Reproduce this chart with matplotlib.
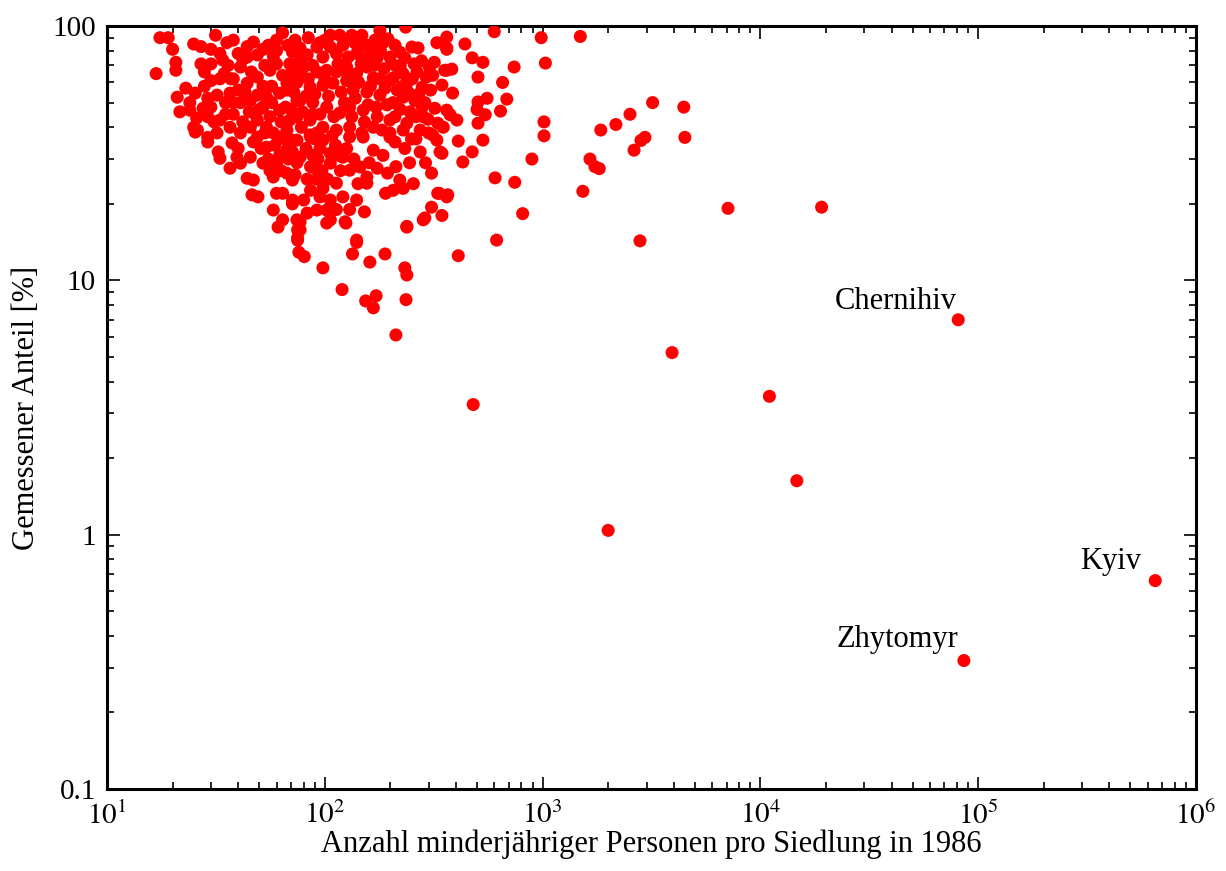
#!/usr/bin/env python3

import math

import matplotlib

matplotlib.use("Agg")
import matplotlib.pyplot as plt
from matplotlib.ticker import FixedLocator, FuncFormatter, LogLocator, NullFormatter


# Siedlungen mit wenigen Minderjährigen (dichter Haufen oben links)
cluster_top_left = [
    (17.5, 90), (19.1, 90), (20, 81), (16.8, 65), (20.7, 72), (20.7, 67), (25, 85), (27, 83),
    (31.5, 92), (35.5, 86), (30, 81), (33, 78), (27, 71), (30, 71), (34, 73.5), (30, 61),
    (34.5, 65), (38, 62), (41, 69), (44, 83), (47, 86.5), (44, 75.5), (49, 77), (60, 88),
    (64, 94), (67.6, 84), (71, 79), (56, 67), (60, 71), (49, 63), (44, 59.6), (41, 50),
    (45.5, 51), (49, 53.5), (52, 48), (54, 52.5), (62, 54.5), (67, 56), (67, 59.6), (69, 71),
    (74.5, 71), (74.5, 51), (21, 52.5), (23, 57), (25.4, 54.5), (29, 52), (32, 53.5),
    (36.7, 54.5), (38, 50), (21.6, 46), (24, 46.7), (27.6, 47.5), (30, 48), (25.8, 43.5),
    (29, 44), (33, 42.7), (25, 40), (26, 39), (32, 38), (29, 36.5), (36.7, 40), (41, 38),
    (45.5, 40), (49, 42.7), (56, 44), (62, 46.7), (69, 42.7), (58, 38), (67, 39), (54, 40),
]

cluster_top_right = [
    (84, 90), (106, 92), (117, 92), (133, 92), (148, 92), (179, 96), (235, 99), (170, 88),
    (174, 80.5), (156, 84), (137, 86), (121, 84), (106, 82.7), (92, 82.7), (77, 82), (73, 88),
    (83, 77), (98, 75.5), (113, 78), (128, 75.5), (140, 78), (156, 75.5), (174, 75),
    (199, 75.5), (221, 79), (251, 82.7), (268, 82), (327, 86), (363, 90.5), (363, 82),
    (302, 69), (355, 67), (313, 64), (265, 66), (280, 57.5), (229, 65), (206, 62.5),
    (238, 59.6), (241, 55), (215, 56), (189, 57), (167, 62.5), (156, 69), (140, 65), (126, 69),
    (113, 66), (102, 67), (92, 66), (80, 69), (74.5, 60), (85.6, 57.5), (98, 58.5),
    (109, 59.6), (126, 61), (135, 56), (156, 55), (179, 53.5), (206, 50), (229, 52.5),
    (259, 51), (288, 50), (320, 47.5), (363, 46.7), (330, 41.5), (283, 44), (238, 41.5),
    (199, 42.7), (174, 44), (150, 46.7), (130, 48), (117, 45.5), (102, 48), (88, 50), (77, 51),
    (74.5, 44), (85.6, 42.7), (98, 40), (113, 39), (130, 40), (148, 38), (167, 40), (199, 38),
    (229, 39), (274, 39), (313, 37.3), (85.6, 37.3),
]

cluster_lower = [
    (25.4, 38.3), (29, 35), (32.4, 32), (33, 30.2), (37.5, 34.7), (36.7, 27.6), (41, 28.9),
    (39.5, 30.5), (45.5, 30.5), (44, 25.2), (47, 24.8), (46.3, 21.7), (49.3, 21.3), (58, 18.9),
    (61, 16.2), (64, 17.3), (74.5, 17.3), (75, 14.7), (75, 15.8), (60, 22), (64, 22),
    (71, 20.7), (58, 25.5), (67, 26.4), (71, 24.8), (49, 36.6), (54, 33.4), (52, 28.9),
    (60, 28.9), (67, 32.6), (71, 35.6), (62, 36.6), (74.5, 29), (74.5, 35.6), (86, 36.6),
    (98, 35.6), (130, 36.6), (150, 36.6), (199, 36.6), (233, 33), (274, 32), (327, 35.6),
    (338, 32), (71, 32), (77, 30.5), (90, 27.6), (106, 31.6), (106, 28.9), (121, 30.5),
    (130, 27.1), (145, 27.9), (167, 32.5), (156, 25.5), (156, 24.1), (174, 27.6), (194, 26.4),
    (221, 24.8), (206, 22.6), (229, 23), (309, 26.4), (330, 22), (363, 21.3), (309, 19.4),
    (288, 17.6), (345, 18), (238, 16.2), (140, 14.4), (124, 17), (106, 17.3), (102, 18.9),
    (92, 18.9), (83, 18.4), (77, 15.8), (75, 14.4), (106, 20.7), (121, 21.3), (140, 20.7),
    (152, 18.6), (95, 21.3), (86, 22.6), (98, 23), (113, 24.1), (80, 20.7), (71, 20),
]

# zusätzliche Punkte im überdeckten Kern des Haufens
cluster_core = [
    (35, 45), (40, 56), (45, 46), (52, 58), (57, 50), (63, 42), (66, 48), (72, 55), (79, 46),
    (84, 62), (90, 54), (95, 45), (100, 62), (104, 53), (110, 44), (115, 71), (119, 55),
    (123, 50), (128, 64), (133, 44), (138, 52), (143, 60), (147, 71), (152, 42), (158, 49),
    (162, 58), (168, 70), (172, 48), (178, 62), (183, 39), (187, 68), (193, 49), (197, 61),
    (203, 71), (210, 44), (215, 69), (222, 47), (228, 58), (233, 75), (246, 46), (252, 62),
    (257, 71), (262, 44), (270, 54), (278, 73), (292, 63), (298, 43), (306, 56), (318, 72),
    (88, 31), (95, 33), (112, 34), (118, 27), (126, 33), (136, 30), (142, 24), (160, 29),
    (185, 31), (190, 22), (212, 28), (245, 29), (255, 24), (262, 36), (290, 29), (83, 25),
    (92, 25), (113, 19), (130, 19), (62, 31), (56, 27), (51, 33), (40, 33), (48, 45), (37, 62),
    (53, 70), (79, 76), (88, 70), (95, 86), (100, 88), (125, 88), (142, 83), (160, 81),
    (185, 86), (195, 89), (210, 84), (222, 70), (180, 80), (210, 35), (250, 36), (280, 48),
    (300, 38), (60, 80), (55, 84), (40, 78), (38, 88),
]

cluster_core_left = [
    (28, 58), (31, 42), (35, 50), (38, 45), (42, 42), (43, 55), (47, 35), (50, 47), (53, 38),
    (55, 30), (57, 58), (59, 34), (63, 27), (65, 36), (68, 30), (70, 47), (73, 26), (78, 40),
    (82, 33), (86, 28), (90, 36), (93, 30), (97, 27), (103, 25), (108, 37), (116, 31),
    (33, 62), (28, 66), (24, 50), (36, 70), (42, 74), (46, 66), (52, 81), (58, 76), (64, 64),
    (70, 65), (76, 64), (82, 53), (88, 45), (92, 38),
]

cluster_edge = [
    (363, 81), (440, 85), (600, 95), (985, 90), (475, 75), (532, 72), (363, 67), (383, 67.7),
    (505, 63), (740, 69), (1030, 71.5), (655, 60), (345, 58.6), (386, 54.5), (505, 50.3),
    (556, 52), (685, 51.6), (500, 47), (641, 46.3), (545, 44.8), (376, 44.8), (404, 42.7),
    (505, 41.5), (350, 40), (1015, 42), (1015, 37), (410, 35.3), (532, 35.6), (345, 31.6),
    (475, 32), (430, 29.2), (893, 30), (605, 25.3), (745, 24.3), (335, 22), (367, 21.7),
    (77, 17), (76, 12.9), (80.5, 12.4), (102, 16.8), (125, 16.8), (140, 14.1), (134, 12.7),
    (161, 11.8), (189, 12.7), (238, 16.3), (283, 17.3), (233, 11.2), (238, 10.5), (98, 11.2),
    (120, 9.2), (154, 8.3), (172, 8.7), (167, 7.8), (236, 8.4), (212, 6.1), (410, 12.5),
    (615, 14.4), (480, 3.25), (810, 18.3),
]

# Größere Orte
large_settlements = [
    (1490, 91), (1850, 39), (2170, 41), (1650, 30), (1740, 28), (1820, 27.5), (1530, 22.4),
    (2520, 45), (3200, 50), (2630, 32.5), (2830, 35.5), (2950, 36.5), (2800, 14.3),
    (4450, 48), (4500, 36.5), (2000, 1.04), (3930, 5.2), (7100, 19.2), (11000, 3.5),
    (14700, 1.63), (19100, 19.4),
]

city_names = ["Chernihiv", "Zhytomyr", "Kyiv"]
city_minors = [81000, 86000, 650000]
city_share = [7.0, 0.32, 0.66]
# Versatz der Beschriftung in Punkten
city_label_offsets = [(-45, 13), (-48, 15), (-32, 14)]

y_tick_values = [0.1, 1, 10, 100]
y_tick_labels = ["0.1", "1", "10", "100"]


def main():
    plt.rcParams["font.family"] = ["Liberation Serif", "DejaVu Serif"]
    plt.rcParams["mathtext.fontset"] = "stix"
    plt.rcParams["font.size"] = 21

    fig = plt.figure(figsize=(12.26, 8.71), dpi=100)
    ax = fig.add_axes([0.0873, 0.0941, 0.8882, 0.876])

    points = (cluster_top_left + cluster_top_right + cluster_lower + cluster_core
              + cluster_core_left + cluster_edge + large_settlements)
    xs = [p[0] for p in points] + city_minors
    ys = [p[1] for p in points] + city_share
    ax.scatter(xs, ys, s=88, color="#ff0000", edgecolors="none", zorder=3)

    for name, x, y, off in zip(city_names, city_minors, city_share, city_label_offsets):
        ax.annotate(name, (x, y), xytext=off, textcoords="offset points",
                    ha="center", va="center", fontsize=22)

    ax.set_xscale("log")
    ax.set_yscale("log")
    ax.set_xlim(10, 1e6)
    ax.set_ylim(0.1, 100)

    ax.xaxis.set_major_locator(LogLocator(base=10, numticks=10))
    ax.xaxis.set_major_formatter(FuncFormatter(lambda v, _: r"$10^{%d}$" % round(math.log10(v))))
    ax.xaxis.set_minor_locator(LogLocator(base=10, subs=range(2, 10), numticks=20))
    ax.xaxis.set_minor_formatter(NullFormatter())
    ax.yaxis.set_major_locator(FixedLocator(y_tick_values))
    ax.yaxis.set_major_formatter(FuncFormatter(lambda v, pos: y_tick_labels[pos]))
    ax.yaxis.set_minor_locator(LogLocator(base=10, subs=range(2, 10), numticks=20))
    ax.yaxis.set_minor_formatter(NullFormatter())

    ax.tick_params(which="both", direction="in", top=True, right=True, width=1.2)
    ax.tick_params(which="major", length=9, labelsize=21)
    ax.tick_params(axis="x", which="major", pad=9)
    ax.tick_params(axis="y", which="major", pad=8)
    ax.tick_params(which="minor", length=5)
    for spine in ax.spines.values():
        spine.set_linewidth(2.2)

    ax.set_xlabel("Anzahl minderjähriger Personen pro Siedlung in 1986", fontsize=22, labelpad=0)
    ax.set_ylabel("Gemessener Anteil [%]", fontsize=22, labelpad=8)

    fig.savefig("out.png", dpi=100)
    plt.close(fig)


if __name__ == "__main__":
    main()
